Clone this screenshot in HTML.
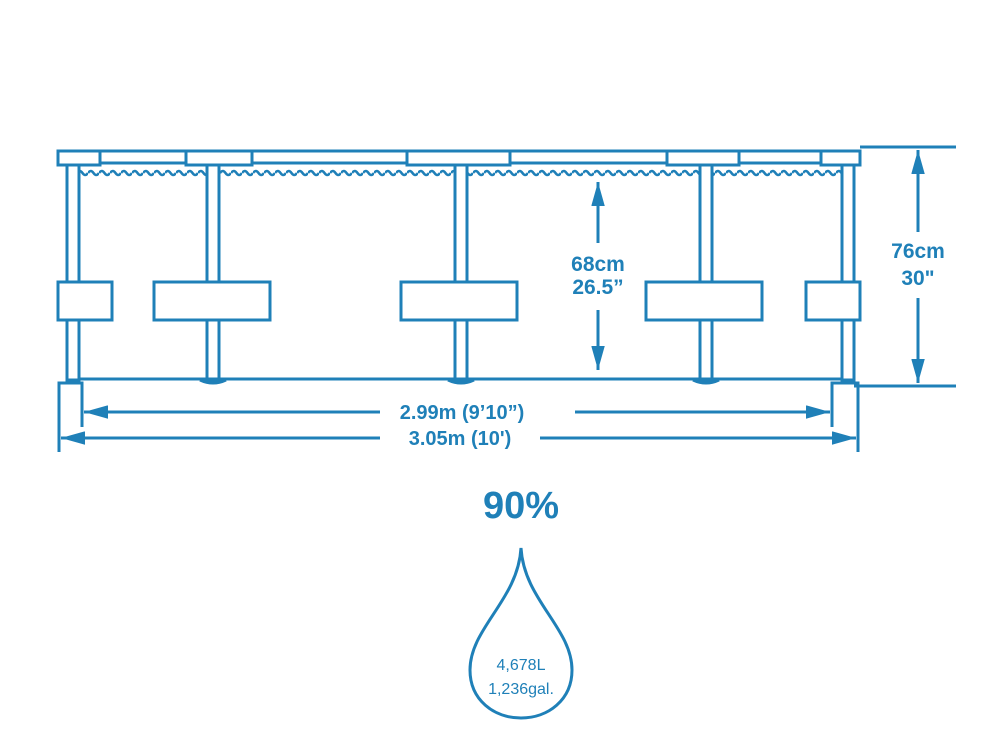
<!DOCTYPE html>
<html><head><meta charset="utf-8"><style>
html,body{margin:0;padding:0;background:#fff;}
svg{display:block;}
text{font-family:"Liberation Sans",Arial,sans-serif;fill:#1f80b8;font-weight:bold;}
</style></head><body>
<svg width="1000" height="750" viewBox="0 0 1000 750" xmlns="http://www.w3.org/2000/svg">
<defs>
<pattern id="wv" x="0" y="168" width="11" height="10" patternUnits="userSpaceOnUse">
<path d="M0 5 Q2.75 1 5.5 5 T11 5" fill="none" stroke="#1f80b8" stroke-width="2.5"/>
</pattern>
<marker id="ar" viewBox="0 0 10 10" refX="10" refY="5" markerWidth="8" markerHeight="4.5" markerUnits="strokeWidth" orient="auto-start-reverse" preserveAspectRatio="none">
<path d="M0 0 L10 5 L0 10 z" fill="#1f80b8"/>
</marker>
</defs>
<g stroke="#1f80b8" stroke-width="3" fill="#fff">
<rect x="80" y="168" width="770" height="10" fill="url(#wv)" stroke="none"/>
<rect x="59" y="151" width="800" height="12"/>
<rect x="58" y="151" width="42" height="14"/>
<rect x="186" y="151" width="66" height="14"/>
<rect x="407" y="151" width="103" height="14"/>
<rect x="667" y="151" width="72" height="14"/>
<rect x="821" y="151" width="39" height="14"/>
<rect x="67" y="165" width="12" height="215"/>
<rect x="207" y="165" width="12" height="215"/>
<rect x="455" y="165" width="12" height="215"/>
<rect x="700" y="165" width="12" height="215"/>
<rect x="842" y="165" width="12" height="215"/>
<rect x="58" y="282" width="54" height="38"/>
<rect x="154" y="282" width="116" height="38"/>
<rect x="401" y="282" width="116" height="38"/>
<rect x="646" y="282" width="116" height="38"/>
<rect x="806" y="282" width="54" height="38"/>
<line x1="79" y1="379" x2="842" y2="379"/>
<line x1="854" y1="386" x2="956" y2="386"/>
<line x1="860" y1="147" x2="956" y2="147"/>
<path d="M59 452 V383 H82 V427" fill="none"/>
<path d="M832 427 V383 H858 V452" fill="none"/>
<path d="M200 380 Q213 386 226 380" fill="none"/>
<path d="M448 380 Q461 386 474 380" fill="none"/>
<path d="M693 380 Q706 386 719 380" fill="none"/>
<line x1="84" y1="412" x2="380" y2="412" marker-start="url(#ar)"/>
<line x1="575" y1="412" x2="830" y2="412" marker-end="url(#ar)"/>
<line x1="61" y1="438" x2="380" y2="438" marker-start="url(#ar)"/>
<line x1="540" y1="438" x2="856" y2="438" marker-end="url(#ar)"/>
<line x1="598" y1="182" x2="598" y2="243" marker-start="url(#ar)"/>
<line x1="598" y1="310" x2="598" y2="370" marker-end="url(#ar)"/>
<line x1="918" y1="150" x2="918" y2="232" marker-start="url(#ar)"/>
<line x1="918" y1="298" x2="918" y2="383" marker-end="url(#ar)"/>
<path d="M521 548 C518 600 470 628 470 670 C470 700 494 718 521 718 C548 718 572 700 572 670 C572 628 524 600 521 548 Z" fill="none"/>
</g>
<text x="598" y="271" font-size="21" text-anchor="middle">68cm</text>
<text x="598" y="294" font-size="21" text-anchor="middle">26.5”</text>
<text x="918" y="258" font-size="21" text-anchor="middle">76cm</text>
<text x="918" y="285" font-size="21" text-anchor="middle">30"</text>
<text x="462" y="419" font-size="20" text-anchor="middle">2.99m (9’10”)</text>
<text x="460" y="445" font-size="20" text-anchor="middle">3.05m (10')</text>
<text x="521" y="518" font-size="38" text-anchor="middle">90%</text>
<text x="521" y="670" font-size="16" text-anchor="middle" style="font-weight:normal">4,678L</text>
<text x="521" y="694" font-size="16" text-anchor="middle" style="font-weight:normal">1,236gal.</text>
</svg>
</body></html>
